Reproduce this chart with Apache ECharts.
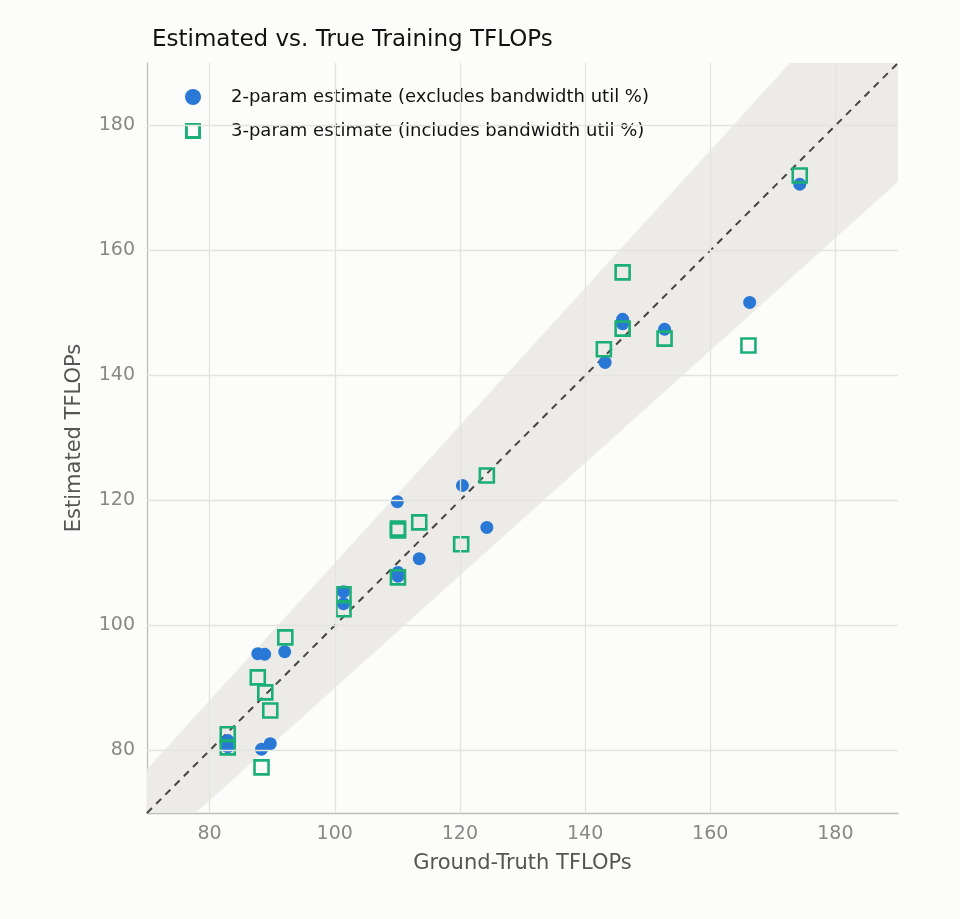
<!DOCTYPE html><html><head><meta charset="utf-8">
<script src="https://cdn.jsdelivr.net/npm/echarts@6/dist/echarts.min.js"></script>
<style>html,body{margin:0;background:#fcfcfa}#c{width:960px;height:919px}</style></head><body><div id="c"></div>
<script>
const twoParam=[[82.9,81.6],[82.9,80.6],[88.3,80.2],[89.7,81.1],[87.7,95.5],[88.8,95.4],[92.0,95.8],[101.4,105.4],[101.4,103.5],[110.0,119.8],[110.1,108.5],[110.1,107.9],[113.5,110.7],[120.4,122.4],[124.3,115.7],[143.2,142.1],[146.0,149.0],[146.0,148.3],[152.7,147.4],[166.3,151.7],[174.3,170.6]];
const threeParam=[[82.9,82.6],[82.9,80.5],[88.3,77.3],[87.7,91.7],[88.9,89.3],[89.7,86.4],[92.1,98.1],[101.4,105.0],[101.4,102.6],[110.1,115.5],[110.1,115.2],[110.1,107.7],[113.5,116.5],[120.2,113.0],[124.3,124.0],[143.0,144.2],[146.0,147.5],[146.0,156.5],[152.7,145.9],[166.1,144.8],[174.3,172.0]];
const bandFrac=0.10;
const axisMin=70, axisMax=190;
const ticks=[80,100,120,140,160,180];
const lo=1-bandFrac, hi=1+bandFrac;
const bandPoly=[[axisMin,axisMin],[axisMin/lo,axisMin],[axisMax,axisMax*lo],[axisMax,axisMax],[axisMax/hi,axisMax],[axisMin,axisMin*hi]];
const diag=[[axisMin,axisMin],[axisMax,axisMax]];
const gridLines=ticks.map(t=>({xAxis:t})).concat(ticks.map(t=>({yAxis:t})));
const axisCommon={type:'value',min:axisMin,max:axisMax,interval:10,
 axisLine:{show:true,onZero:false,lineStyle:{color:'#bdbdb5',width:1.3}},axisTick:{show:false},
 axisLabel:{color:'#888',fontSize:19,margin:12,fontFamily:'DejaVu Sans',formatter:v=>ticks.includes(v)?String(v):''},
 splitLine:{show:false},nameTextStyle:{color:'#555',fontSize:21,fontFamily:'DejaVu Sans'},nameLocation:'middle'};
const chart=echarts.init(document.getElementById('c'));
chart.setOption({backgroundColor:'#fcfcfa',animation:false,
 title:{text:'Estimated vs. True Training TFLOPs',left:147,top:24,textStyle:{fontSize:23,fontWeight:'normal',color:'#111',fontFamily:'DejaVu Sans'}},
 grid:{left:147,right:62,top:63,bottom:106},
 legend:{left:180,top:83,orient:'vertical',itemGap:16,itemWidth:16,itemHeight:16,textStyle:{fontSize:18,color:'#111',fontFamily:'DejaVu Sans',padding:[0,0,0,25]},
  data:[{name:'2-param estimate (excludes bandwidth util %)',icon:'circle',itemStyle:{color:'#2a78d6'}},{name:'3-param estimate (includes bandwidth util %)',icon:'path://M0,0H10V10H0Z M1.8,1.8V8.2H8.2V1.8Z',itemStyle:{color:'#1baf78',borderWidth:0}}]},
 xAxis:Object.assign({},axisCommon,{name:'Ground-Truth TFLOPs',nameGap:40}),
 yAxis:Object.assign({},axisCommon,{name:'Estimated TFLOPs',nameGap:62}),
 series:[
  {type:'custom',silent:true,z:1,data:[0],renderItem:(p,api)=>({type:'polygon',shape:{points:bandPoly.map(q=>api.coord(q))},style:{fill:'#ecebe7'}})},
  {type:'line',data:diag,symbol:'none',silent:true,z:2,lineStyle:{color:'#444',type:[7,6],width:2},
   markLine:{silent:true,symbol:'none',label:{show:false},lineStyle:{color:'#e3e3df',type:'solid',width:1.3},data:gridLines}},
  {name:'2-param estimate (excludes bandwidth util %)',type:'scatter',data:twoParam,symbol:'circle',symbolSize:13,itemStyle:{color:'#2a78d6',opacity:1},z:3},
  {name:'3-param estimate (includes bandwidth util %)',type:'scatter',data:threeParam,symbol:'rect',symbolSize:14,itemStyle:{color:'rgba(0,0,0,0)',borderColor:'#1baf78',borderWidth:2.6,opacity:1},z:4}
 ]});
</script></body></html>
